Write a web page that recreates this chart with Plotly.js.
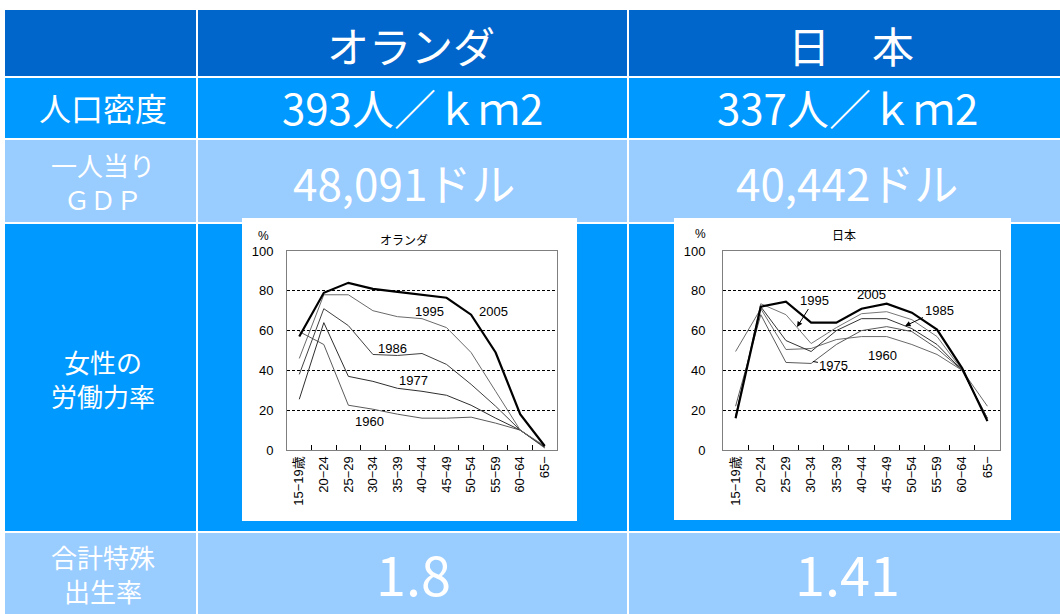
<!DOCTYPE html>
<html>
<head>
<meta charset="utf-8">
<script src="https://cdn.plot.ly/plotly-3.0.1.min.js"></script>
<style>
html,body{margin:0;padding:0;background:#fff;}
#chart{width:1060px;height:614px;}
</style>
</head>
<body>
<div id="chart"></div>
<script>
// ---------- data ----------
const ageGroups = ["15−19歳","20−24","25−29","30−34","35−39","40−44","45−49","50−54","55−59","60−64","65−"];
const yTicks = [0, 20, 40, 60, 80, 100];

// Netherlands female labour force participation (%)
const nlYears = ["1960","1977","1986","1995","2005"];
const nl1960 = [59.5, 53, 22.5, 20.5, 18, 16, 16, 16.5, 13.5, 10, 1];
const nl1977 = [25.5, 64, 37, 34.5, 31, 29.5, 27.5, 22.5, 16, 10, 1.5];
const nl1986 = [38, 71, 62.5, 48, 47.5, 48.5, 43, 33, 22, 10, 1.5];
const nl1995 = [46, 78, 78, 70, 67, 66, 61.5, 49, 29.5, 10, 2];
const nl2005 = [57, 79, 84, 81, 79.5, 78, 76.5, 68, 49, 18, 2];

// Japan female labour force participation (%)
const jpYears = ["1960","1975","1985","1995","2005"];
const jp1960 = [49.5, 71, 50.5, 51, 55.5, 57, 57, 53, 48, 40, 22];
const jp1975 = [22, 68, 44, 43.5, 53, 60, 62, 59.5, 51, 40, 16];
const jp1985 = [17, 72, 55, 49.5, 60, 66, 66, 61, 53, 40, 16];
const jp1995 = [16.5, 73.5, 68, 53.5, 61.5, 68.5, 69.5, 65.5, 57, 40, 15.5];
const jp2005 = [16, 72, 74.5, 64, 64, 71, 73.5, 69, 60.5, 41, 14.5];

// table texts
const countryNames = ["オランダ", "日　本"];
const rowLabels = [["人口密度"], ["一人当り", "ＧＤＰ"], ["女性の", "労働力率"], ["合計特殊", "出生率"]];
const densityValues = ["393人／ｋｍ2", "337人／ｋｍ2"];
const gdpValues = ["48,091ドル", "40,442ドル"];
const tfrValues = ["1.8", "1.41"];
const chartTitles = ["オランダ", "日本"];
const unitLabel = "%";

// ---------- layout helpers ----------
const W = 1060, H = 614;
const px = x => x / W;
const py = y => 1 - y / H;
const CJK = "Noto Sans CJK JP, sans-serif";
const LAT = "Liberation Sans, Arial, Noto Sans CJK JP, sans-serif";

const colEdges = [[5, 196], [198, 627], [629, 1062]];
const rowEdges = [[10, 76], [78, 138], [140, 222], [224, 531], [533, 616]];
const rowColors = ["#0066CC", "#0099FF", "#99CCFF", "#0099FF", "#99CCFF"];

const shapes = [];
rowEdges.forEach((r, ri) => {
  colEdges.forEach(c => {
    shapes.push({type: "rect", xref: "paper", yref: "paper", layer: "below",
      x0: px(c[0]), x1: px(c[1]), y0: py(r[1]), y1: py(r[0]),
      fillcolor: rowColors[ri], line: {width: 0}});
  });
});
// white chart boxes
[[242, 577, 218, 521], [674, 1011, 218, 520]].forEach(b => {
  shapes.push({type: "rect", xref: "paper", yref: "paper", layer: "below",
    x0: px(b[0]), x1: px(b[1]), y0: py(b[3]), y1: py(b[2]),
    fillcolor: "#ffffff", line: {width: 0}});
});

const annotations = [];
function txt(text, x, y, size, family, color, extra) {
  annotations.push(Object.assign({text: text, xref: "paper", yref: "paper",
    x: px(x), y: py(y), xanchor: "center", yanchor: "middle", showarrow: false,
    font: {size: size, family: family, color: color}}, extra || {}));
}
// header
txt(countryNames[0], 411, 44, 42, CJK, "#fff");
txt(countryNames[1], 851, 44, 42, CJK, "#fff");
// row labels (two-line labels kept in one text block)
txt(rowLabels[0][0], 103, 107, 32, CJK, "#fff");
txt(rowLabels[1].join("<br>"), 103, 181, 26, CJK, "#fff");
txt(rowLabels[2].join("<br>"), 103, 378, 26, CJK, "#fff");
txt(rowLabels[3].join("<br>"), 103, 573, 26, CJK, "#fff");
// values
txt(densityValues[0], 412, 107, 42, CJK, "#fff");
txt(densityValues[1], 847, 107, 42, CJK, "#fff");
txt(gdpValues[0], 404, 182, 44, CJK, "#fff");
txt(gdpValues[1], 847, 182, 44, CJK, "#fff");
txt(tfrValues[0], 413, 572, 54, CJK, "#fff");
txt(tfrValues[1], 847, 572, 54, CJK, "#fff");
// chart titles and units
txt(chartTitles[0], 404, 240, 12, CJK, "#000");
txt(chartTitles[1], 844, 235, 12, CJK, "#000");
txt(unitLabel, 263, 236, 12, LAT, "#000");
txt(unitLabel, 700, 234, 12, LAT, "#000");

// series labels (data coordinates)
function lab(text, xa, ya, x, y, extra) {
  annotations.push(Object.assign({text: text, xref: xa, yref: ya, x: x, y: y,
    xanchor: "center", yanchor: "middle", showarrow: false,
    font: {size: 13, family: LAT, color: "#000"}}, extra || {}));
}
lab(nlYears[3], "x", "y", 5.32, 69.8);
lab(nlYears[4], "x", "y", 7.93, 69.8);
lab(nlYears[2], "x", "y", 3.78, 50.8);
lab(nlYears[1], "x", "y", 4.67, 34.7);
lab(nlYears[0], "x", "y", 2.88, 14.1);

lab(jpYears[4], "x2", "y2", 5.38, 77.9);
lab(jpYears[0], "x2", "y2", 5.85, 47.5);
const arrowStyle = {showarrow: true, arrowhead: 2, arrowsize: 1.1, arrowwidth: 1, arrowcolor: "#000", xanchor: "center", yanchor: "middle"};
lab(jpYears[3], "x2", "y2", 2.44, 61.8, Object.assign({}, arrowStyle, {ax: 17, ay: -27}));
lab(jpYears[2], "x2", "y2", 6.73, 62.3, Object.assign({}, arrowStyle, {ax: 34, ay: -16}));
lab(jpYears[1], "x2", "y2", 3.07, 44.5, Object.assign({}, arrowStyle, {arrowhead: 0, ax: 21, ay: 4}));

// ---------- traces ----------
const nlStyles = [
  {y: nl1960, color: "#5a5a5a", width: 1},
  {y: nl1977, color: "#2e2e2e", width: 1},
  {y: nl1986, color: "#404040", width: 1},
  {y: nl1995, color: "#6a6a6a", width: 1},
  {y: nl2005, color: "#000000", width: 2.2}
];
const jpStyles = [
  {y: jp1960, color: "#6a6a6a", width: 1},
  {y: jp1975, color: "#5a5a5a", width: 1},
  {y: jp1985, color: "#333333", width: 1},
  {y: jp1995, color: "#777777", width: 1},
  {y: jp2005, color: "#000000", width: 2.2}
];
const traces = [];
nlStyles.forEach((s, i) => traces.push({type: "scatter", mode: "lines", name: "オランダ " + nlYears[i],
  x: ageGroups, y: s.y, xaxis: "x", yaxis: "y", line: {color: s.color, width: s.width}, hoverinfo: "skip"}));
jpStyles.forEach((s, i) => traces.push({type: "scatter", mode: "lines", name: "日本 " + jpYears[i],
  x: ageGroups, y: s.y, xaxis: "x2", yaxis: "y2", line: {color: s.color, width: s.width}, hoverinfo: "skip"}));

function xAxis(domain, anchor) {
  return {domain: domain, anchor: anchor, type: "category", categoryorder: "array", categoryarray: ageGroups,
    range: [-0.5, 10.5], tickson: "boundaries", ticks: "inside", ticklen: 5, tickcolor: "#000", tickwidth: 1,
    tickangle: -90, showline: true, linecolor: "#7f7f7f", linewidth: 1, mirror: true, showgrid: false,
    tickfont: {size: 13, family: LAT, color: "#000"}, fixedrange: true};
}
function yAxis(domain, anchor, standoff) {
  return {domain: domain, anchor: anchor, range: [0, 100], tickmode: "array", tickvals: yTicks,
    showgrid: true, gridcolor: "#000", gridwidth: 1, griddash: "3px,2px", zeroline: false,
    ticks: "", showline: true, linecolor: "#7f7f7f", linewidth: 1, mirror: true,
    ticklabelstandoff: standoff, tickfont: {size: 13, family: LAT, color: "#000"}, fixedrange: true};
}

const layout = {
  width: W, height: H, margin: {l: 0, r: 0, t: 0, b: 0},
  paper_bgcolor: "#ffffff", plot_bgcolor: "rgba(0,0,0,0)", showlegend: false,
  xaxis: xAxis([px(287), px(557)], "y"),
  yaxis: yAxis([py(450), py(251)], "x", 10),
  xaxis2: xAxis([px(723), px(1000)], "y2"),
  yaxis2: yAxis([py(450), py(251)], "x2", 14),
  shapes: shapes, annotations: annotations
};

Plotly.newPlot("chart", traces, layout, {staticPlot: true, displayModeBar: false});
</script>
</body>
</html>
